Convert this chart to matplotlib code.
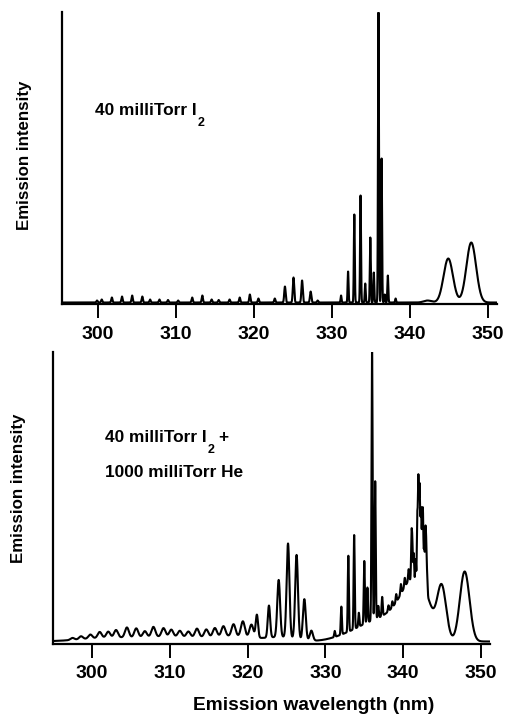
import numpy as np
import matplotlib
matplotlib.use("Agg")
import matplotlib.pyplot as plt

plt.rcParams['font.family'] = ['Liberation Sans', 'DejaVu Sans']
plt.rcParams['font.weight'] = 'bold'

# ---- data (nm, peak height in plot units 0..292) ----
top_center = [299.9, 300.5, 301.8, 303.1, 304.4, 305.7, 306.7, 307.9, 309.0, 310.3,
              312.1, 313.4, 314.6, 315.5, 316.9, 318.2, 319.5, 320.6, 322.7, 324.0,
              325.1, 326.2, 327.3, 328.2, 331.2, 332.1, 332.9, 333.7, 334.3, 334.95,
              335.4, 336.0, 336.4, 336.8, 337.2, 338.2, 342.3, 344.95, 347.9]
top_height = [2, 3, 5, 6, 7, 6, 3, 3, 2.5, 2,
              5, 7, 3, 2.5, 3, 5, 8, 4, 4, 16,
              25, 22, 11, 2, 7, 31, 88, 107, 19, 65,
              30, 290, 144, 8, 27, 4, 2, 44, 60]
top_width = [0.08] * 19 + [0.09, 0.09, 0.09, 0.09, 0.08] + [0.06] * 12 + [0.5, 0.6, 0.62]
top_base = 1.5

bot_center = [302.0, 310.0, 318.0, 324.5, 333.0, 336.5, 339.5, 341.3, 343.0,
              297.5, 298.6, 299.8, 301.0, 302.1, 303.1, 304.5, 305.7, 306.8, 307.9,
              309.2, 310.2, 311.3, 312.4, 313.5, 314.7, 315.8, 316.9, 318.2, 319.4,
              320.5, 321.2, 322.75, 324.0, 325.2, 326.3, 327.3, 328.2,
              331.2, 332.05, 332.95, 333.7, 334.3, 335.0, 335.4, 336.0, 336.4, 336.8,
              337.3, 338.1, 338.6, 339.1, 339.7, 340.2, 340.7, 341.15, 341.95, 342.2,
              342.45, 342.7, 342.95, 341.05, 341.35, 341.6, 341.8, 342.1, 342.3, 342.55,
              342.85, 343.1, 344.95, 347.9]
bot_height = [3.5, 4.5, 5, 4, 6, 18, 24, 45, 30,
              2, 3, 4, 6, 6, 7.5, 10, 9, 6, 10,
              8.5, 7, 6, 5.5, 8.5, 7.5, 8.5, 10, 12, 15.5,
              13, 23, 32, 57, 94, 84, 41, 10,
              6, 28, 76, 94, 14, 63, 35, 270, 138, 12,
              19, 6, 6, 8, 10, 9, 12, 42, 105, 50,
              64, 40, 50, 30, 25, 20, 55, 70, 50, 45,
              40, 15, 54, 70]
bot_width = [3.5, 3.5, 3.0, 1.8, 2.0, 2.0, 1.5, 1.2, 0.9] + \
            [0.25] * 21 + [0.15, 0.15, 0.18, 0.18, 0.18, 0.18, 0.2] + \
            [0.07] * 23 + [0.05] * 9 + [0.58, 0.62]
bot_base = 2.5

xticks = [300, 310, 320, 330, 340, 350]


def Spectrum(x, centers, heights, widths, base):
  y = np.full_like(x, base)
  for c, h, w in zip(centers, heights, widths):
    y += h * np.exp(-0.5 * ((x - c) / w) ** 2)
  return y


def StyleAxis(ax, xlim, pad):
  ax.set_xlim(xlim)
  ax.set_ylim(0, 292)
  for side in ['top', 'right']:
    ax.spines[side].set_visible(False)
  for side in ['left', 'bottom']:
    ax.spines[side].set_linewidth(1.6)
  ax.set_yticks([])
  ax.set_xticks(xticks)
  ax.tick_params(axis='x', direction='out', length=10, width=1.4, pad=pad, labelsize=14)


def LabelWithSubscript(fig, x, y, text, sub, drop, tail=''):
  # main text, then a lowered subscript right after it
  t = fig.text(x, y, text, ha='left', va='baseline', fontsize=12.4)
  r = fig.canvas.get_renderer()
  bb = t.get_window_extent(renderer=r).transformed(fig.transFigure.inverted())
  s = fig.text(bb.x1 + 0.001, y - drop, sub, ha='left', va='baseline', fontsize=9)
  if tail:
    bb2 = s.get_window_extent(renderer=r).transformed(fig.transFigure.inverted())
    fig.text(bb2.x1 + 0.008, y, tail, ha='left', va='baseline', fontsize=12.4)


fig = plt.figure(figsize=(5.08, 7.16), dpi=100)

ax1 = fig.add_axes([0.1220, 0.5754, 0.8563, 0.4078])
x1 = np.arange(295.4, 351.2, 0.005)
ax1.plot(x1, Spectrum(x1, top_center, top_height, top_width, top_base), color='black', lw=1.5)
StyleAxis(ax1, (295.4, 351.2), 6)

ax2 = fig.add_axes([0.1043, 0.1006, 0.8602, 0.4078])
x2 = np.arange(295.0, 351.15, 0.005)
ax2.plot(x2, Spectrum(x2, bot_center, bot_height, bot_width, bot_base), color='black', lw=1.5)
StyleAxis(ax2, (295.0, 351.15), 5)

fig.text(0.049, 0.7835, 'Emission intensity', rotation=90, ha='center', va='center', fontsize=12.2)
fig.text(0.037, 0.318, 'Emission intensity', rotation=90, ha='center', va='center', fontsize=12.2)
fig.text(0.617, 0.014, 'Emission wavelength (nm)', ha='center', va='center', fontsize=13.8)

LabelWithSubscript(fig, 0.187, 0.8394, '40 milliTorr I', '2', 0.016)
LabelWithSubscript(fig, 0.2067, 0.383, '40 milliTorr I', '2', 0.016, tail='+')
fig.text(0.2067, 0.334, '1000 milliTorr He', ha='left', va='baseline', fontsize=12.4)

fig.savefig('out.png', dpi=100)
